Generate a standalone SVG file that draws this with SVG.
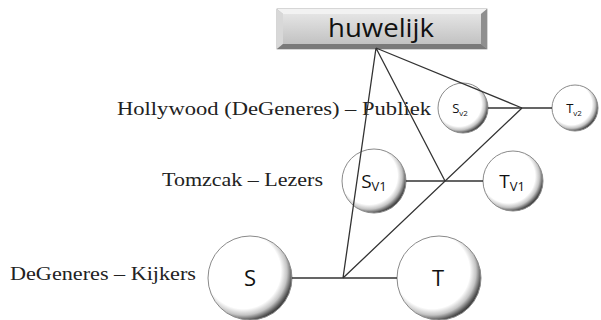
<svg xmlns="http://www.w3.org/2000/svg" width="601" height="320" viewBox="0 0 601 320">
<style>
.lbl{font-family:"Liberation Serif","DejaVu Serif",serif;font-size:19px;fill:#222}
.nd{fill:url(#ball);stroke:#8a8a8a;stroke-width:1}
.ct{font-family:"Open Sans","Liberation Sans",sans-serif;fill:#111;text-anchor:middle}
.cn{stroke:#333;stroke-width:1.3;fill:none}
</style>
<defs>
<radialGradient id="ball" cx="0.42" cy="0.42" r="0.62">
<stop offset="0" stop-color="#ffffff"/>
<stop offset="0.72" stop-color="#ffffff"/>
<stop offset="0.84" stop-color="#c4c4c4"/>
<stop offset="0.94" stop-color="#555"/>
<stop offset="1" stop-color="#2a2a2a"/>
</radialGradient>
<linearGradient id="face" x1="0" y1="0" x2="0" y2="1">
<stop offset="0" stop-color="#e4e4e4"/>
<stop offset="1" stop-color="#c2c2c2"/>
</linearGradient>
</defs>
<rect width="601" height="320" fill="#fff"/>
<g id="huwelijk">
<rect x="277" y="9" width="210" height="40" fill="#bdbdbd" stroke="#999" stroke-width="0.8"/>
<polygon points="277,9 487,9 481,14 283,14" fill="#f2f2f2"/>
<polygon points="277,9 283,14 283,44 277,49" fill="#d8d8d8"/>
<polygon points="487,9 481,14 481,44 487,49" fill="#8f8f8f"/>
<polygon points="277,49 283,44 481,44 487,49" fill="#7a7a7a"/>
<rect x="283" y="14" width="198" height="30" fill="url(#face)"/>
<text x="381" y="37" class="ct" font-size="26" textLength="106" lengthAdjust="spacingAndGlyphs">huwelijk</text>
</g>
<g id="label-hollywood"><text x="117" y="115" class="lbl" textLength="314" lengthAdjust="spacingAndGlyphs">Hollywood (DeGeneres) – Publiek</text></g>
<g id="label-tomzcak"><text x="162" y="186" class="lbl" textLength="161" lengthAdjust="spacingAndGlyphs">Tomzcak – Lezers</text></g>
<g id="label-degeneres"><text x="10" y="280" class="lbl" textLength="186" lengthAdjust="spacingAndGlyphs">DeGeneres – Kijkers</text></g>
<g id="Sv2"><circle class="nd" cx="463" cy="108" r="25"/><text x="460" y="113" class="ct" font-size="13">S<tspan font-size="8" dy="3">v2</tspan></text></g>
<g id="Tv2"><circle class="nd" cx="575" cy="108" r="23"/><text x="574" y="113" class="ct" font-size="13">T<tspan font-size="8" dy="3">v2</tspan></text></g>
<g id="SV1"><circle class="nd" cx="374" cy="181" r="32"/><text x="374" y="188" class="ct" font-size="19">S<tspan font-size="13" dy="3">V1</tspan></text></g>
<g id="TV1"><circle class="nd" cx="513" cy="181" r="30"/><text x="512" y="188" class="ct" font-size="19">T<tspan font-size="13" dy="3">V1</tspan></text></g>
<g id="S"><circle class="nd" cx="250" cy="278" r="42"/><text x="250" y="286" class="ct" font-size="22">S</text></g>
<g id="T"><circle class="nd" cx="439" cy="278" r="42"/><text x="438" y="286" class="ct" font-size="22">T</text></g>
<g id="connectors">
<path class="cn" d="M376,48 L343,278 M376,48 L445,181 M376,48 L522,108 M343,278 L522,108"/>
<path class="cn" d="M292,278 L397,278 M406,181 L483,181 M488,108 L552,108"/>
</g>
</svg>
